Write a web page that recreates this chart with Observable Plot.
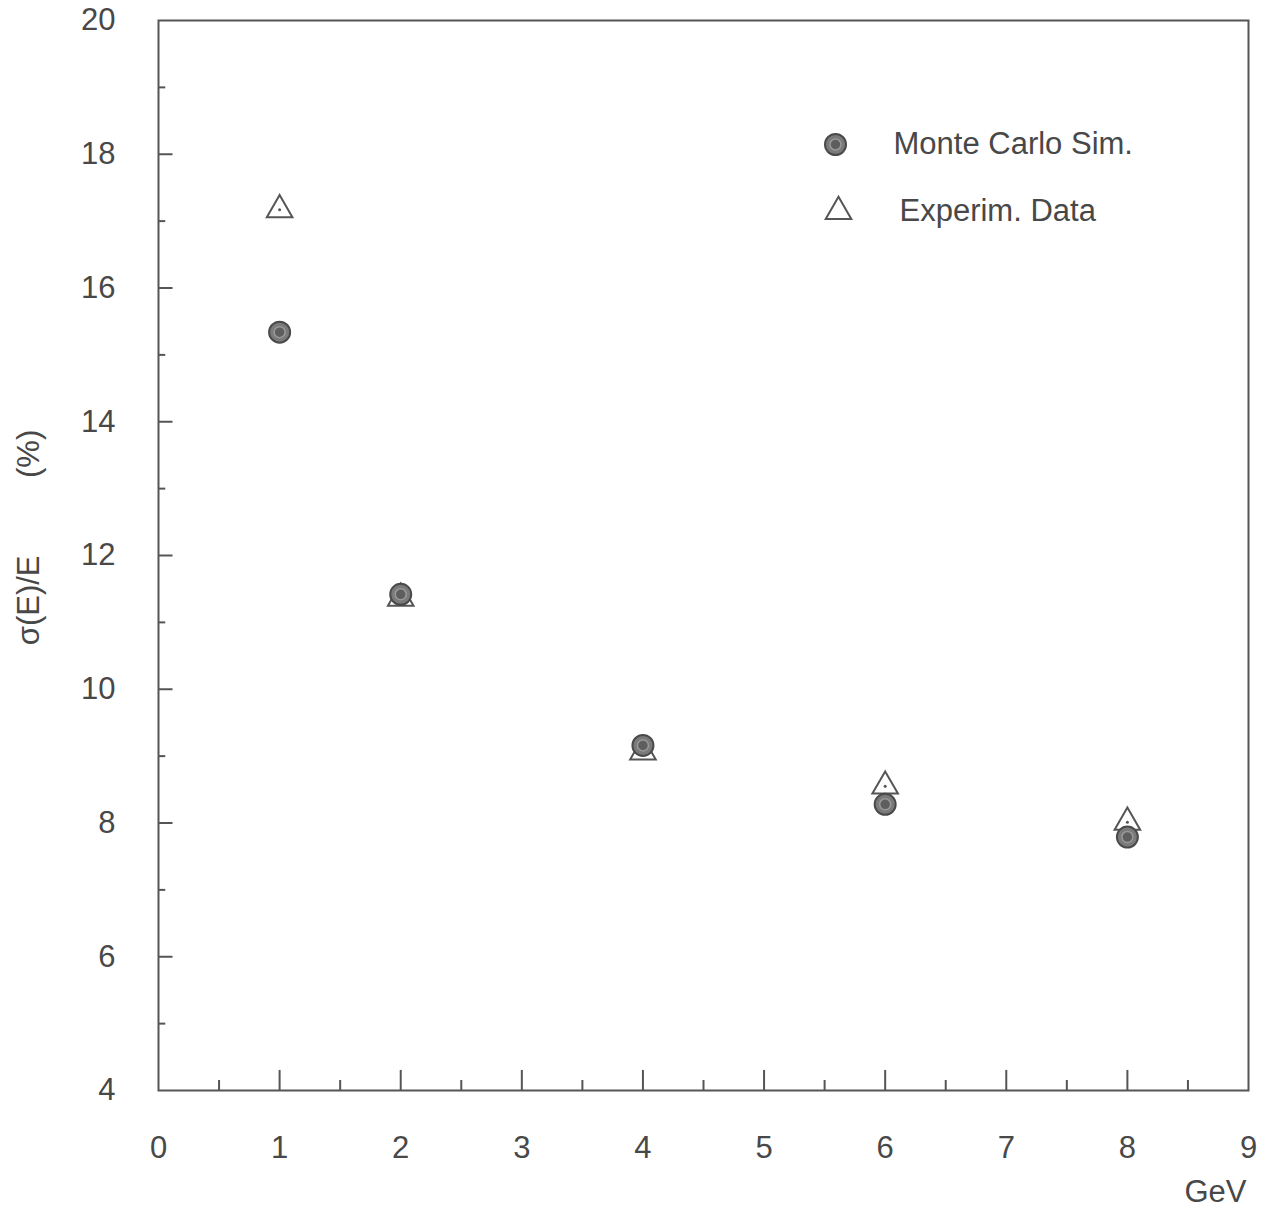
<!DOCTYPE html>
<html>
<head>
<meta charset="utf-8">
<script src="https://cdn.jsdelivr.net/npm/d3@7"></script>
<script src="https://cdn.jsdelivr.net/npm/@observablehq/plot@0.6"></script>
<style>
  html, body { margin: 0; padding: 0; background: #ffffff; }
  #chart { width: 1265px; height: 1212px; }
</style>
</head>
<body>
<div id="chart"></div>
<script>
// Energies (GeV)
const energies = [1, 2, 4, 6, 8];
// Monte Carlo simulation sigma(E)/E (%)
const monteCarlo = [15.34, 11.42, 9.16, 8.28, 7.79];
// Experimental data sigma(E)/E (%)
const experiment = [17.17, 11.36, 9.06, 8.55, 8.01];
// Axis ticks
const xMajorTicks = [0, 1, 2, 3, 4, 5, 6, 7, 8, 9];
const xMinorTicks = [0.5, 1.5, 2.5, 3.5, 4.5, 5.5, 6.5, 7.5, 8.5];
const yMajorTicks = [4, 6, 8, 10, 12, 14, 16, 18, 20];
const yMinorTicks = [5, 7, 9, 11, 13, 15, 17, 19];
const seriesNames = ["Monte Carlo Sim.", "Experim. Data"];

const mc = energies.map((e, i) => ({x: e, y: monteCarlo[i]}));
const ex = energies.map((e, i) => ({x: e, y: experiment[i]}));

const ink = "#555";
const textInk = "#484848";
const font = "Liberation Sans, Arial, Helvetica, sans-serif";
const nb = "\u00a0";

const chart = Plot.plot({
  width: 1265,
  height: 1212,
  marginLeft: 158,
  marginRight: 17,
  marginTop: 20,
  marginBottom: 122,
  style: {background: "#ffffff", fontFamily: font, color: textInk},
  x: {domain: [0, 9]},
  y: {domain: [4, 20]},
  marks: [
    Plot.frame({stroke: ink, strokeWidth: 2}),
    // inward ticks
    Plot.ruleX(xMajorTicks.slice(1, -1), {y1: 4, y2: 4 + 0.3, stroke: ink, strokeWidth: 2}),
    Plot.ruleX(xMinorTicks, {y1: 4, y2: 4 + 0.15, stroke: ink, strokeWidth: 2}),
    Plot.ruleY(yMajorTicks.slice(1, -1), {x1: 0, x2: 0.12, stroke: ink, strokeWidth: 2}),
    Plot.ruleY(yMinorTicks, {x1: 0, x2: 0.06, stroke: ink, strokeWidth: 2}),
    Plot.axisX({ticks: xMajorTicks, tickSize: 0, tickPadding: 45, fontSize: 31, label: null, fill: textInk}),
    Plot.axisY({ticks: yMajorTicks, tickSize: 0, tickPadding: 43, fontSize: 31, label: null, fill: textInk}),
    // axis titles
    Plot.text(["σ(E)/E" + nb.repeat(9) + "(%)"], {
      frameAnchor: "left", rotate: -90, dx: -129, dy: -18, fontSize: 31, fill: textInk,
      textAnchor: "middle", lineAnchor: "middle"
    }),
    Plot.text(["GeV"], {
      frameAnchor: "bottom-right", dx: -2, dy: 102, fontSize: 31, fill: textInk,
      textAnchor: "end", lineAnchor: "middle"
    }),
    // Experimental data: open triangles
    Plot.dot(ex, {x: "x", y: "y", symbol: "triangle", r: 9.5, stroke: ink, strokeWidth: 2, fill: "white"}),
    Plot.dot(ex, {x: "x", y: "y", r: 1.5, fill: ink}),
    // Monte Carlo: filled circles
    Plot.dot(mc, {x: "x", y: "y", r: 10.5, fill: "#7a7a7a", stroke: "#4a4a4a", strokeWidth: 2}),
    Plot.dot(mc, {x: "x", y: "y", r: 5.5, fill: "#5e5e5e", stroke: "#999", strokeWidth: 1.5}),
    // legend
    Plot.dot([0], {frameAnchor: "top-left", dx: 677, dy: 124, r: 10.5, fill: "#7a7a7a", stroke: "#4a4a4a", strokeWidth: 2}),
    Plot.dot([0], {frameAnchor: "top-left", dx: 677, dy: 124, r: 5.5, fill: "#5e5e5e", stroke: "#999", strokeWidth: 1.5}),
    Plot.dot([0], {frameAnchor: "top-left", dx: 680, dy: 191, symbol: "triangle", r: 9.5, stroke: ink, strokeWidth: 2, fill: "white"}),
    Plot.text([seriesNames[0]], {frameAnchor: "top-left", dx: 735, dy: 124, fontSize: 31, fill: textInk, textAnchor: "start", lineAnchor: "middle"}),
    Plot.text([seriesNames[1]], {frameAnchor: "top-left", dx: 741, dy: 191, fontSize: 31, fill: textInk, textAnchor: "start", lineAnchor: "middle"})
  ]
});
document.getElementById("chart").appendChild(chart);
</script>
</body>
</html>
